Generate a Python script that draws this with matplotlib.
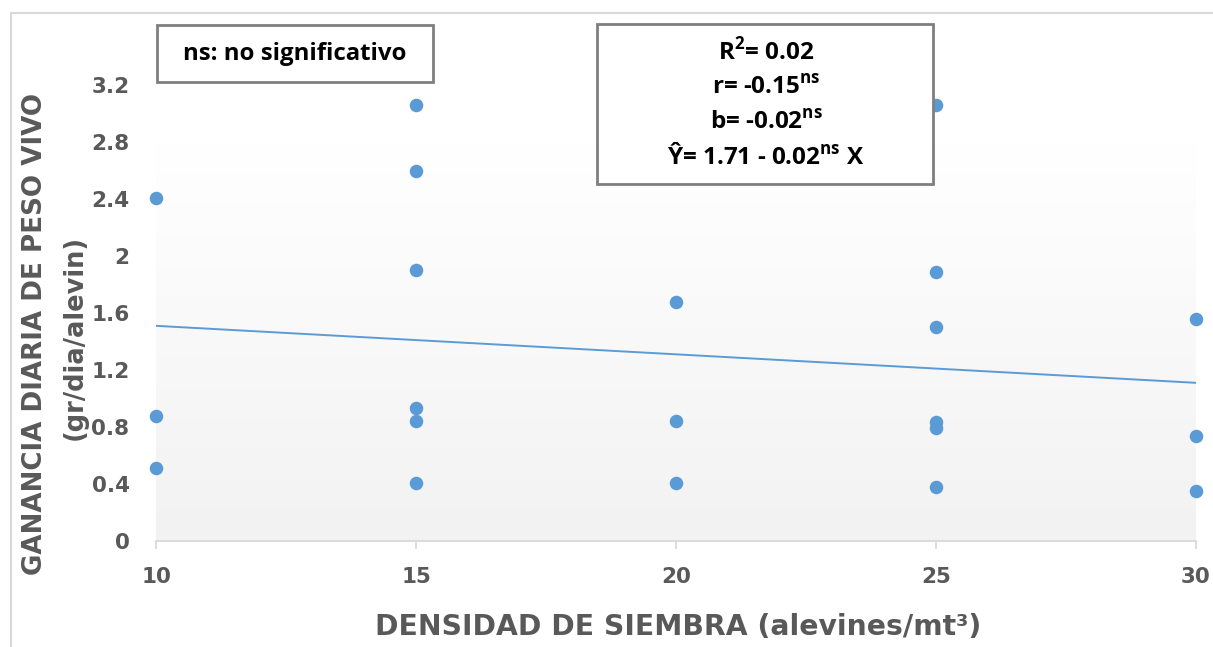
import numpy as np
import matplotlib
matplotlib.use("Agg")
import matplotlib.pyplot as plt
from matplotlib.patches import Rectangle
from matplotlib.colors import LinearSegmentedColormap

# Stocking density (fish per m3) and daily weight gain per fingerling
densidad = [10, 10, 10,
            15, 15, 15, 15, 15, 15,
            20, 20, 20,
            25, 25, 25, 25, 25, 25,
            30, 30, 30]
ganancia = [2.41, 0.88, 0.51,
            3.06, 2.60, 1.90, 0.93, 0.84, 0.41,
            1.68, 0.84, 0.41,
            3.06, 1.89, 1.50, 0.835, 0.79, 0.38,
            1.56, 0.74, 0.35]

# Fitted regression: Y = a + b X
intercepto = 1.71
pendiente = -0.02

x_ticks = [10, 15, 20, 25, 30]
y_ticks = [0, 0.4, 0.8, 1.2, 1.6, 2, 2.4, 2.8, 3.2]
y_tick_labels = ["0", "0.4", "0.8", "1.2", "1.6", "2", "2.4", "2.8", "3.2"]

stats_lines = [r"R$^{\mathbf{2}}$= 0.02",
               r"r= -0.15$^{\mathbf{ns}}$",
               r"b= -0.02$^{\mathbf{ns}}$",
               r"Ŷ= 1.71 - 0.02$^{\mathbf{ns}}$ X"]
nota = "ns: no significativo"

plt.rcParams["mathtext.fontset"] = "custom"
plt.rcParams["mathtext.rm"] = "Open Sans"
plt.rcParams["mathtext.bf"] = "Open Sans:bold"

W, H = 1213, 647
fig = plt.figure(figsize=(W / 100, H / 100), dpi=100)

def fx(px):
    return px / W

def fy(py):
    return 1 - py / H

ax = fig.add_axes([fx(156), fy(541), fx(1196) - fx(156), fy(85) - fy(541)])
ax.patch.set_visible(False)

# plot-area gradient fill (white at top to light grey at bottom)
grad = np.linspace(1, 0, 256).reshape(-1, 1)
cmap = LinearSegmentedColormap.from_list("g", ["#f2f2f2", "#ffffff"])
ax.imshow(grad, extent=[10, 30, 0, 2.79], aspect="auto", cmap=cmap,
          origin="upper", zorder=0, vmin=0, vmax=1)
ax.set_xlim(10, 30)
ax.set_ylim(0, 3.2)

color = "#5b9bd5"
xs = np.array([10, 30])
ax.plot(xs, intercepto + pendiente * xs, color=color, lw=1.4, zorder=2,
        solid_capstyle="butt")
ax.scatter(densidad, ganancia, s=95, color=color, zorder=3, clip_on=False,
           linewidths=0)

for s in ["left", "right", "top"]:
    ax.spines[s].set_visible(False)
ax.spines["bottom"].set_color("#d9d9d9")
ax.spines["bottom"].set_linewidth(1.3)

tick_font = dict(family="DejaVu Sans", weight="bold", size=15.5)
ax.set_xticks(x_ticks)
ax.set_xticklabels([str(v) for v in x_ticks], color="#595959", **tick_font)
ax.set_yticks(y_ticks)
ax.set_yticklabels(y_tick_labels, color="#595959", **tick_font)
ax.tick_params(axis="x", direction="out", length=6, width=1.3,
               color="#d9d9d9", pad=13)
ax.tick_params(axis="y", length=0, pad=19)

label_font = dict(family="DejaVu Sans", weight="bold", color="#595959")
fig.text(fx(35), fy(334), "GANANCIA DIARIA DE PESO VIVO", rotation=90,
         ha="center", va="center", size=18.8, **label_font)
fig.text(fx(75), fy(337), "(gr/dia/alevin)", rotation=90,
         ha="center", va="center", size=18.5, **label_font)
fig.text(fx(678), fy(627), "DENSIDAD DE SIEMBRA (alevines/mt³)",
         ha="center", va="center", size=20.3, **label_font)

# outer chart frame
fig.patches.append(Rectangle((fx(11), fy(700)), 1.2, fy(13) - fy(700),
                             transform=fig.transFigure, fill=False,
                             edgecolor="#d9d9d9", lw=1.5, zorder=0))

# annotation boxes
box_kw = dict(transform=fig.transFigure, facecolor="white",
              edgecolor="#7f7f7f", lw=2, zorder=5)
fig.patches.append(Rectangle((fx(157), fy(82)), fx(433) - fx(157),
                             fy(25) - fy(82), **box_kw))
fig.text(fx(295), fy(54), nota, ha="center", va="center", family="Open Sans",
         weight="bold", size=17.3, color="black", zorder=6)

fig.patches.append(Rectangle((fx(597), fy(184)), fx(933) - fx(597),
                             fy(24) - fy(184), **box_kw))
line_y = [52, 88, 123, 157]
for yy, line in zip(line_y, stats_lines):
    fig.text(fx(766), fy(yy), line, ha="center", va="center",
             family="Open Sans", weight="bold", size=17.5, color="black",
             zorder=6)

fig.savefig("out.png", dpi=100)
